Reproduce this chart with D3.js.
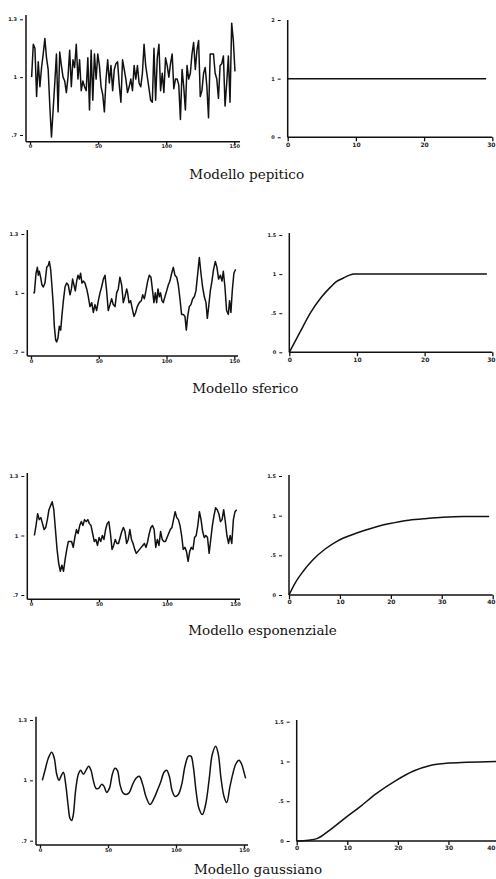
<!DOCTYPE html>
<html>
<head>
<meta charset="utf-8">
<script src="https://cdn.jsdelivr.net/npm/d3@7"></script>
<style>
  body { margin: 0; background: #fff; }
  .tick text { font-family: "DejaVu Sans", sans-serif; font-weight: bold; fill: #222; }
  .title { font-family: "DejaVu Serif", serif; font-size: 13.5px; fill: #111; }
</style>
</head>
<body>
<div id="chart"></div>
<script>
// ---- data ----
var titles = ["Modello pepitico", "Modello sferico", "Modello esponenziale", "Modello gaussiano"];

var seriesTicks = [0, 50, 100, 150];
var seriesTickLabels = ["0", "50", "100", "150"];
var levelTicks = [0.7, 1, 1.3];
var levelTickLabels = [".7", "1", "1.3"];

// simulated series, evenly spaced in time
var pepitico = [1.0,1.17,1.15,0.9,1.08,0.95,1.05,1.12,1.2,1.1,1.04,0.85,0.69,0.83,0.97,1.12,0.82,1.13,1.06,1.0,
  0.98,0.92,1.0,1.14,0.95,1.09,1.05,1.17,0.99,1.09,0.93,0.98,0.95,0.93,1.1,0.83,1.14,0.88,1.12,0.99,
  1.12,1.06,0.95,0.91,0.82,0.99,1.09,0.97,1.06,0.93,1.04,1.07,1.08,0.96,0.87,1.09,1.04,0.99,0.92,0.95,
  0.99,0.93,1.06,0.99,1.06,0.97,0.95,1.02,1.17,1.06,1.0,0.94,0.88,0.87,1.15,0.88,1.1,1.17,0.93,1.02,
  0.92,1.1,1.06,1.0,1.07,1.12,0.94,0.99,0.99,0.96,0.78,1.04,0.95,0.83,1.06,0.99,1.02,1.12,1.18,1.04,
  1.14,1.19,0.9,0.93,1.02,1.05,0.95,0.79,1.12,1.12,1.12,1.02,0.99,0.89,1.06,1.07,1.11,0.85,0.97,1.11,
  0.87,1.28,1.19,1.03];
var pepiticoSpan = [1.2, 150.5];

var esponenziale = [1.0,1.05,1.11,1.08,1.09,1.06,1.03,1.04,1.08,1.13,1.15,1.17,1.13,1.03,0.93,0.86,0.82,0.85,0.82,0.88,
  0.93,0.97,0.97,0.97,0.94,0.99,1.03,1.01,1.05,1.07,1.05,1.08,1.07,1.08,1.06,1.05,1.01,0.97,0.98,0.95,
  0.99,0.97,1.0,0.98,1.03,1.06,1.07,1.01,0.93,0.95,0.98,0.96,0.96,0.99,1.02,1.04,1.02,0.96,0.98,1.03,
  0.98,0.96,0.93,0.91,0.92,0.93,0.94,0.95,0.96,0.94,0.97,1.01,1.04,1.05,1.03,0.94,0.98,0.95,1.02,0.98,
  0.97,0.97,0.99,1.01,1.03,1.04,1.08,1.12,1.09,1.08,1.05,1.0,0.93,0.94,0.92,0.87,0.92,0.94,0.93,0.99,
  1.0,1.05,1.12,1.08,1.02,0.99,1.0,0.99,0.91,0.98,1.05,1.1,1.14,1.13,1.11,1.07,1.08,1.13,1.07,1.0,
  0.96,1.0,0.96,1.08,1.12,1.13];
var esponenzialeSpan = [2.5, 151.2];

// [time, value]
var sferico = [[1.7,1.0],[2.5,1.0],[3.7,1.1],[4.7,1.13],[5.4,1.09],[6.1,1.11],[7.1,1.08],[8.1,1.04],[9.1,1.03],[10.3,1.05],
  [11.6,1.13],[12.8,1.14],[13.5,1.16],[14.5,1.12],[15.5,1.03],[16.5,0.93],[17.2,0.83],[18.2,0.76],[18.9,0.75],[19.9,0.77],
  [20.9,0.83],[21.9,0.81],[22.9,0.89],[23.9,0.96],[25.1,1.03],[26.3,1.05],[27.5,1.04],[28.8,0.99],[29.8,1.02],[30.7,1.07],
  [31.7,1.04],[32.7,1.01],[33.7,1.06],[34.7,1.09],[35.7,1.07],[36.6,1.1],[37.6,1.05],[38.6,1.06],[39.8,1.05],[41.1,1.02],
  [42.3,0.98],[43.5,0.93],[44.8,0.95],[46.0,0.9],[47.2,0.94],[48.4,0.91],[49.7,0.96],[50.9,1.0],[52.1,1.03],[53.4,1.07],
  [54.6,1.09],[55.8,1.01],[57.0,0.91],[58.3,0.94],[59.5,0.97],[60.7,0.94],[62.0,0.93],[63.2,1.0],[64.4,1.02],[65.6,1.08],
  [66.9,1.04],[68.1,0.95],[69.3,0.98],[70.6,1.02],[71.3,1.0],[72.3,0.95],[73.5,0.96],[74.7,0.92],[76.0,0.88],[77.2,0.9],
  [78.4,0.93],[79.9,0.95],[81.4,0.96],[82.4,0.99],[83.6,0.97],[84.8,1.01],[86.1,1.06],[87.3,1.09],[88.5,1.08],[89.7,1.01],
  [90.7,0.95],[91.7,1.0],[92.7,0.95],[93.7,1.02],[94.7,0.98],[95.6,1.0],[96.6,0.96],[97.6,0.95],[98.8,0.98],[100.1,1.01],
  [101.3,1.04],[102.5,1.06],[103.8,1.1],[105.0,1.13],[106.2,1.09],[107.5,1.08],[108.7,1.04],[109.9,0.97],[111.1,0.89],[112.4,0.89],
  [113.6,0.88],[114.6,0.81],[115.6,0.88],[116.8,0.93],[118.0,0.94],[119.3,0.97],[120.5,0.98],[121.7,1.01],[122.9,1.09],[124.2,1.18],
  [125.4,1.1],[126.6,1.03],[127.9,0.98],[129.1,0.95],[130.1,0.87],[131.1,0.93],[132.3,1.01],[133.5,1.06],[134.7,1.12],[136.0,1.16],
  [137.2,1.13],[138.4,1.07],[139.7,1.09],[140.9,1.06],[141.9,1.11],[143.1,1.03],[144.3,0.91],[145.6,0.89],[146.5,0.96],[147.5,0.9],
  [148.5,1.01],[149.7,1.1],[151.0,1.12]];

var gaussiano = [[1.7,1.0],[3.7,1.05],[6.1,1.11],[8.6,1.14],[10.5,1.11],[12.3,1.03],[14.0,1.0],[15.4,1.02],[17.2,1.04],[18.9,0.98],
  [20.6,0.88],[22.1,0.81],[23.3,0.8],[24.5,0.83],[26.2,0.95],[28.2,1.03],[29.9,1.05],[31.9,1.03],[33.8,1.05],[35.8,1.07],
  [37.5,1.05],[39.2,1.0],[41.2,0.96],[43.1,0.96],[45.3,0.98],[47.1,0.97],[49.0,0.94],[51.0,0.96],[53.2,1.03],[55.1,1.06],
  [56.9,1.05],[58.8,0.98],[60.8,0.94],[63.2,0.93],[65.7,0.94],[68.1,0.98],[70.6,1.01],[73.0,1.02],[75.5,0.98],[77.9,0.92],
  [80.9,0.88],[83.8,0.91],[86.3,0.95],[88.7,0.99],[91.2,1.04],[93.1,1.05],[95.1,1.02],[97.1,0.95],[99.3,0.92],[101.7,0.93],
  [104.2,0.98],[106.6,1.07],[109.1,1.12],[111.0,1.12],[112.7,1.07],[114.7,0.95],[116.9,0.86],[119.4,0.83],[121.8,0.88],[124.3,1.0],
  [126.7,1.13],[129.2,1.17],[131.1,1.13],[133.1,1.01],[135.3,0.92],[137.3,0.89],[139.7,0.97],[141.7,1.03],[143.9,1.08],[146.3,1.1],
  [148.3,1.08],[150.0,1.04],[151.2,1.01]];

// variograms: lag and gamma
var vgPepiticoLag = [0, 29.1];
var vgPepiticoGamma = [1, 1];
var vgSfericoLag = [0, 1.6, 3.1, 4.7, 6.05, 6.9, 8.0, 9.0, 9.5, 29.2];
var vgSfericoGamma = [0, 0.26, 0.5, 0.7, 0.83, 0.9, 0.95, 0.99, 1.0, 1.0];
var vgEsponLag = [0, 1.2, 2.8, 4.8, 7.1, 9.5, 12, 14.6, 17.2, 19.8, 23.1, 26.4, 30.2, 34.2, 39.3];
var vgEsponGamma = [0, 0.15, 0.3, 0.45, 0.58, 0.68, 0.75, 0.81, 0.86, 0.9, 0.94, 0.96, 0.98, 0.99, 0.99];
var vgGaussLag = [0, 2.3, 4.0, 6.6, 9.6, 12.5, 15.8, 19.6, 23.1, 26.4, 30.0, 33.6, 39.5];
var vgGaussGamma = [0, 0.01, 0.03, 0.14, 0.29, 0.43, 0.6, 0.76, 0.88, 0.95, 0.98, 0.99, 1.0];

var vgTicksShort = [0, 10, 20, 30];
var vgTicksLong = [0, 10, 20, 30, 40];
var gammaTicksTwo = [0, 1, 2];
var gammaTicks = [0, 0.5, 1, 1.5];
var gammaTickLabels = ["0", ".5", "1", "1.5"];

// ---- build rows ----
function evenly(values, span) {
  var step = (span[1] - span[0]) / (values.length - 1);
  return values.map((v, i) => [span[0] + i * step, v]);
}

var rows = [
  { series: evenly(pepitico, pepiticoSpan), curve: d3.curveLinear,
    lag: vgPepiticoLag, gamma: vgPepiticoGamma, lagTicks: vgTicksShort, lagMax: 30,
    gTicks: gammaTicksTwo, gLabels: ["0", "1", "2"], gMax: 2 },
  { series: sferico, curve: d3.curveLinear,
    lag: vgSfericoLag, gamma: vgSfericoGamma, lagTicks: vgTicksShort, lagMax: 30,
    gTicks: gammaTicks, gLabels: gammaTickLabels, gMax: 1.5 },
  { series: evenly(esponenziale, esponenzialeSpan), curve: d3.curveLinear,
    lag: vgEsponLag, gamma: vgEsponGamma, lagTicks: vgTicksLong, lagMax: 40,
    gTicks: gammaTicks, gLabels: gammaTickLabels, gMax: 1.5 },
  { series: gaussiano, curve: d3.curveCatmullRom,
    lag: vgGaussLag, gamma: vgGaussGamma, lagTicks: vgTicksLong, lagMax: 40,
    gTicks: gammaTicks, gLabels: gammaTickLabels, gMax: 1.5 }
];

// pixel layout of each row
var layout = [
  { ts: { xr: [30, 234.3], axL: 26, axR: 240, yr: [19.3, 135], top: 15, bottom: 141.7 },
    vg: { xr: [287.7, 492.3], yr: [137.3, 20], top: 20 }, title: [246.7, 179] },
  { ts: { xr: [31, 234.3], axL: 27.3, axR: 238, yr: [234, 351.7], top: 230, bottom: 356 },
    vg: { xr: [289.3, 492.3], yr: [352.3, 235], top: 233 }, title: [245.3, 393] },
  { ts: { xr: [31, 235], axL: 27.3, axR: 240, yr: [476, 595], top: 473, bottom: 599.3 },
    vg: { xr: [289, 492.7], yr: [595, 476], top: 475 }, title: [262.5, 635] },
  { ts: { xr: [40, 244], axL: 36, axR: 248, yr: [720, 840.7], top: 716.7, bottom: 845 },
    vg: { xr: [296.7, 499], yr: [841, 721.7], top: 720 }, title: [258, 874] }
];

var svg = d3.select("#chart").append("svg")
  .attr("width", 496)
  .attr("height", 879);

function axisLine(g, x1, y1, x2, y2) {
  g.append("line")
    .attr("x1", x1).attr("y1", y1).attr("x2", x2).attr("y2", y2)
    .attr("stroke", "#111").attr("stroke-width", 1.5);
}

rows.forEach(function(row, i) {
  var L = layout[i];
  var g = svg.append("g");

  // left: simulated series
  var x = d3.scaleLinear().domain([0, 150]).range(L.ts.xr);
  var y = d3.scaleLinear().domain([1.3, 0.7]).range(L.ts.yr);

  axisLine(g, L.ts.axL, L.ts.top, L.ts.axL, L.ts.bottom);
  axisLine(g, L.ts.axL, L.ts.bottom, L.ts.axR, L.ts.bottom);

  var xa = g.append("g")
    .attr("transform", `translate(0, ${L.ts.bottom})`)
    .call(d3.axisBottom(x).tickValues(seriesTicks)
      .tickFormat((d, k) => seriesTickLabels[k]).tickSize(3).tickPadding(0));
  xa.select(".domain").remove();
  xa.selectAll("line").attr("stroke", "#111").attr("stroke-width", 1.3);
  xa.selectAll("text").style("font-size", "5px");

  var ya = g.append("g")
    .attr("transform", `translate(${L.ts.axL}, 0)`)
    .call(d3.axisLeft(y).tickValues(levelTicks)
      .tickFormat((d, k) => levelTickLabels[k]).tickSize(6).tickPadding(3));
  ya.select(".domain").remove();
  ya.selectAll("line").attr("x1", -6).attr("x2", -3).attr("stroke", "#111");
  ya.selectAll("text").style("font-size", "5px");

  var line = d3.line().x(d => x(d[0])).y(d => y(d[1])).curve(row.curve);
  g.append("path")
    .datum(row.series)
    .attr("d", line)
    .attr("fill", "none")
    .attr("stroke", "#111")
    .attr("stroke-width", 1.5)
    .attr("stroke-linejoin", "round");

  // right: variogram
  var vx = d3.scaleLinear().domain([0, row.lagMax]).range(L.vg.xr);
  var vy = d3.scaleLinear().domain([0, row.gMax]).range(L.vg.yr);

  axisLine(g, L.vg.xr[0], L.vg.top, L.vg.xr[0], L.vg.yr[0]);
  axisLine(g, L.vg.xr[0], L.vg.yr[0], L.vg.xr[1], L.vg.yr[0]);

  var vxa = g.append("g")
    .attr("transform", `translate(0, ${L.vg.yr[0]})`)
    .call(d3.axisBottom(vx).tickValues(row.lagTicks).tickSize(4).tickPadding(1));
  vxa.select(".domain").remove();
  vxa.selectAll("line").attr("stroke", "#111").attr("stroke-width", 1.3);
  vxa.selectAll("text").style("font-size", "6px");
  // keep a label that would run past the page edge inside it
  vxa.selectAll(".tick").each(function(d) {
    var px = vx(d);
    if (px + 5 > 496) {
      d3.select(this).select("text").attr("text-anchor", "end").attr("x", 495 - px);
    }
  });

  var vya = g.append("g")
    .attr("transform", `translate(${L.vg.xr[0]}, 0)`)
    .call(d3.axisLeft(vy).tickValues(row.gTicks)
      .tickFormat((d, k) => row.gLabels[k]).tickSize(10).tickPadding(3));
  vya.select(".domain").remove();
  vya.selectAll("line").attr("x1", -10).attr("x2", -7).attr("stroke", "#111");
  vya.selectAll("text").style("font-size", "5px");

  var vgData = row.lag.map((h, k) => [h, row.gamma[k]]);
  g.append("path")
    .datum(vgData)
    .attr("d", d3.line().x(d => vx(d[0])).y(d => vy(d[1])).curve(d3.curveMonotoneX))
    .attr("fill", "none")
    .attr("stroke", "#111")
    .attr("stroke-width", 1.5);

  svg.append("text")
    .attr("class", "title")
    .attr("x", L.title[0])
    .attr("y", L.title[1])
    .attr("text-anchor", "middle")
    .text(titles[i]);
});
</script>
</body>
</html>
